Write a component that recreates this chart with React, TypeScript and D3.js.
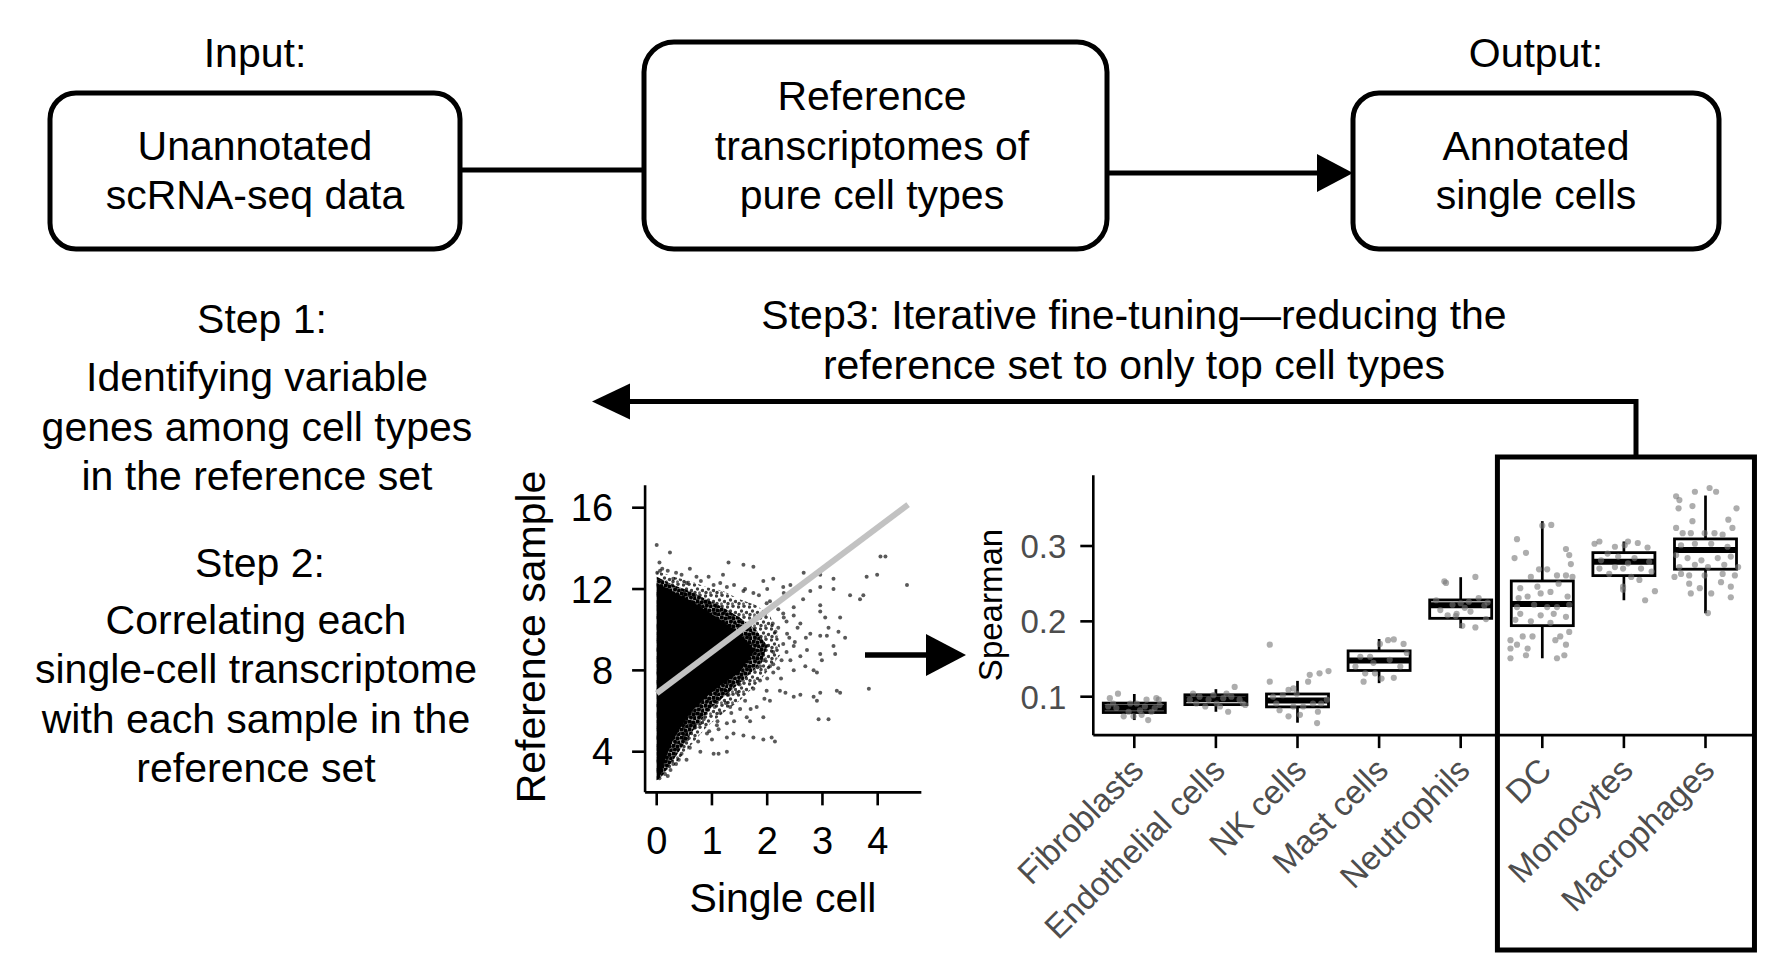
import React from "react";
import * as d3 from "d3";

const W = 1784;
const H = 968;
const FONT = '"Liberation Sans", Arial, Helvetica, sans-serif';

// ---------- Flow diagram text ----------
const inputTitle = "Input:";
const outputTitle = "Output:";
const inputLines = ["Unannotated", "scRNA-seq data"];
const refLines = ["Reference", "transcriptomes of", "pure cell types"];
const outputLines = ["Annotated", "single cells"];
const step1Lines = ["Step 1:", "Identifying variable", "genes among cell types", "in the reference set"];
const step2Lines = ["Step 2:", "Correlating each", "single-cell transcriptome", "with each sample in the", "reference set"];
const step3Lines = ["Step3: Iterative fine-tuning\u2014reducing the", "reference set to only top cell types"];

// ---------- Scatter (single cell vs reference sample) ----------
const scatterXTicks = [0, 1, 2, 3, 4];
const scatterYTicks = [4, 8, 12, 16];
const scatterXLabel = "Single cell";
const scatterYLabel = "Reference sample";
// outer edge of the speckled zone of the point cloud
const cloudOuter: [number, number][] = [
  [0, 12.9], [0.3, 12.6], [0.6, 12.4], [0.9, 12.1], [1.2, 11.9], [1.5, 11.5], [1.8, 11.2],
  [2.05, 10.7], [2.2, 9.7], [2.25, 8.8], [2.05, 8.1], [1.8, 7.3], [1.5, 6.5], [1.2, 5.9],
  [0.9, 5.2], [0.6, 4.25], [0.3, 3.3], [0.1, 2.95], [0, 2.6],
];
// edge of the very dense (almost saturated) zone
const cloudMid: [number, number][] = [
  [0, 12.6], [0.3, 12.2], [0.6, 11.9], [0.9, 11.5], [1.2, 11.1], [1.5, 10.6], [1.8, 10.0],
  [2.0, 9.2], [1.9, 8.4], [1.6, 7.6], [1.3, 6.9], [1.0, 6.2], [0.7, 5.2], [0.45, 4.2],
  [0.25, 3.4], [0.1, 2.8], [0, 2.6],
];
// edge of the saturated black core
const cloudCore: [number, number][] = [
  [0, 12.3], [0.3, 11.85], [0.6, 11.45], [0.9, 10.95], [1.2, 10.4], [1.5, 9.8], [1.78, 9.0],
  [1.5, 7.9], [1.2, 7.35], [0.9, 6.7], [0.6, 5.9], [0.3, 4.6], [0.15, 3.6], [0.05, 2.7], [0, 2.6],
];
const sparsePoints: [number, number][] = [
  [0, 14.16], [0.24, 13.8], [1.3, 13.3], [1.57, 13.2], [1.75, 13.1], [4.14, 13.6], [4.05, 13.6],
  [3.99, 12.7], [3.8, 12.6], [4.53, 12.2], [2.66, 12.8], [2.96, 12.7], [3.2, 12.5], [2.42, 12.2],
  [2.29, 12.1], [2.11, 12.5], [1.93, 12.4], [0.94, 12.6], [0.72, 12.6], [0.3, 12.5], [3.5, 11.7],
  [3.68, 11.5], [3.74, 11.7], [3.2, 12.0], [2.96, 12.1], [2.78, 11.9], [2.48, 11.1], [2.96, 11.2],
  [2.96, 10.9], [3.05, 10.6], [3.11, 10.1], [3.32, 10.6], [3.29, 9.9], [3.41, 9.6], [3.08, 9.7],
  [2.96, 9.7], [2.78, 9.8], [2.6, 10.3], [2.48, 10.7], [2.29, 10.8], [2.36, 9.8], [2.2, 10.1],
  [2.29, 9.3], [2.48, 9.2], [2.72, 9.0], [2.42, 8.5], [2.26, 8.5], [2.11, 8.3], [2.05, 8.2],
  [2.11, 7.9], [2.48, 8.0], [2.69, 8.2], [2.84, 8.0], [2.96, 8.8], [3.2, 9.2], [2.99, 8.5],
  [2.9, 7.9], [3.23, 8.8], [3.32, 6.9], [3.84, 7.1], [3.26, 7.0], [2.96, 6.9], [2.84, 6.7],
  [2.6, 6.8], [2.48, 6.7], [2.33, 6.9], [2.23, 7.0], [1.99, 7.0], [2.05, 6.5], [1.87, 7.5],
  [1.81, 6.2], [1.51, 6.1], [1.45, 6.9], [1.63, 5.7], [1.69, 5.5], [1.93, 5.7], [2.9, 6.5],
  [2.93, 5.6], [3.11, 5.6], [1.93, 4.6], [2.08, 4.7], [2.14, 4.5], [1.75, 4.7], [1.57, 4.8],
  [1.39, 4.9], [1.27, 4.7], [1.12, 5.1], [1.03, 3.9], [1.12, 3.9], [1.27, 4.0], [0.79, 4.0],
  [0.54, 3.6], [0.3, 3.4], [1.09, 5.3], [0.91, 4.9], [0.79, 5.4], [1.33, 6.2], [1.15, 5.9],
  [1.27, 5.4], [1.99, 9.2], [2.11, 8.9], [1.93, 8.5], [1.87, 8.2], [1.81, 10.6], [1.99, 11.3],
  [1.75, 11.8], [1.57, 11.9], [1.27, 12.1], [1.03, 12.2], [0.54, 12.3], [0.06, 12.9], [0.01, 12.8],
  [0.05, 13.3], [0.1, 13.0], [0.2, 12.9], [0.35, 12.8], [0.45, 12.7], [0.8, 12.4], [1.15, 12.3],
  [1.4, 12.2], [1.6, 12.0], [1.85, 11.7], [2.05, 11.4], [2.2, 11.0], [2.35, 10.4], [2.4, 9.6],
  [2.35, 8.9], [2.2, 8.1], [2.0, 7.6], [1.75, 7.1], [1.6, 6.5], [1.35, 5.9], [1.1, 5.5],
  [0.95, 5.0], [0.75, 4.5], [0.6, 4.2], [0.45, 3.9], [0.35, 3.4], [0.25, 3.1], [0.15, 2.9],
  [0.55, 4.6], [0.85, 5.6], [1.25, 6.4], [1.9, 8.8], [2.15, 9.9], [2.5, 9.4], [2.6, 8.7],
  [2.7, 9.6], [2.55, 10.1], [2.65, 11.5], [2.3, 11.8], [2.0, 12.0], [1.2, 12.7], [0.6, 13.0],
  [1.5, 7.3], [1.3, 6.8], [1.05, 6.2], [0.7, 5.2], [2.3, 10.6], [2.1, 10.3], [2.25, 7.6],
  [1.95, 6.6], [1.7, 6.1], [1.4, 5.5], [1.0, 4.6], [0.4, 3.6], [0.2, 2.8], [0.05, 2.7],
];
const fitLine: [number, number][] = [[0, 6.87], [4.55, 16.15]];

// ---------- Boxplot (Spearman per cell type) ----------
const categories = ["Fibroblasts", "Endothelial cells", "NK cells", "Mast cells", "Neutrophils", "DC", "Monocytes", "Macrophages"];
const boxLow = [0.069, 0.080, 0.0655, 0.118, 0.191, 0.151, 0.228, 0.2107];
const boxQ1 = [0.079, 0.0895, 0.0865, 0.1348, 0.204, 0.1943, 0.2607, 0.2692];
const boxMed = [0.0855, 0.0965, 0.0948, 0.148, 0.2215, 0.2231, 0.279, 0.2948];
const boxQ3 = [0.0915, 0.1025, 0.1036, 0.1608, 0.2284, 0.2536, 0.2912, 0.3094];
const boxHigh = [0.1036, 0.110, 0.121, 0.1766, 0.2586, 0.333, 0.306, 0.367];
const spearmanTicks = [0.1, 0.2, 0.3];
const spearmanLabel = "Spearman";
// [jitter offset (fraction of category step), Spearman value]
const jitterPoints: [number, number][][] = [
  [[-0.30, 0.098], [-0.20, 0.104], [-0.13, 0.074], [-0.01, 0.074], [0.09, 0.076], [0.17, 0.069], [0.15, 0.096],
   [0.27, 0.098], [0.30, 0.096], [-0.32, 0.087], [-0.07, 0.080], [0.03, 0.091], [0.25, 0.085], [-0.22, 0.085],
   [-0.05, 0.091], [0.07, 0.082], [0.13, 0.087], [-0.26, 0.091], [0.31, 0.089], [0.21, 0.080]],
  [[-0.28, 0.104], [-0.20, 0.100], [-0.13, 0.087], [0.15, 0.080], [0.23, 0.113], [0.36, 0.089], [0.33, 0.091],
   [0.09, 0.098], [-0.09, 0.096], [0.01, 0.091], [-0.32, 0.096], [0.19, 0.100], [0.29, 0.096], [-0.03, 0.102],
   [-0.24, 0.091], [0.05, 0.087], [0.13, 0.104]],
  [[-0.34, 0.169], [-0.34, 0.120], [-0.11, 0.109], [-0.05, 0.111], [0.15, 0.129], [0.13, 0.120], [0.27, 0.131],
   [0.38, 0.134], [0.36, 0.096], [0.24, 0.065], [0.25, 0.080], [-0.11, 0.074], [-0.22, 0.082], [-0.26, 0.091],
   [-0.01, 0.104], [0.07, 0.087], [0.19, 0.091], [-0.30, 0.100], [0.03, 0.076], [-0.18, 0.102], [-0.05, 0.087],
   [0.29, 0.091]],
  [[-0.23, 0.153], [0.01, 0.170], [0.11, 0.175], [0.18, 0.176], [0.30, 0.170], [-0.19, 0.120], [-0.17, 0.131],
   [-0.05, 0.131], [0.03, 0.124], [0.18, 0.125], [-0.11, 0.153], [-0.29, 0.140], [0.26, 0.140], [0.13, 0.149],
   [-0.07, 0.145], [0.34, 0.158]],
  [[-0.20, 0.253], [0.18, 0.259], [-0.16, 0.208], [-0.06, 0.207], [0.02, 0.194], [0.18, 0.192], [0.31, 0.203],
   [0.29, 0.221], [0.33, 0.225], [-0.18, 0.251], [-0.25, 0.215], [-0.10, 0.222], [0.05, 0.218], [0.12, 0.213],
   [-0.30, 0.228], [0.22, 0.231], [0.00, 0.224], [-0.05, 0.210], [0.10, 0.226]],
  [[-0.31, 0.309], [0.11, 0.328], [0.00, 0.327], [-0.34, 0.284], [-0.20, 0.291], [0.29, 0.296], [0.33, 0.288],
   [0.35, 0.276], [-0.04, 0.269], [0.06, 0.269], [-0.14, 0.259], [0.18, 0.261], [0.29, 0.261], [0.37, 0.259],
   [-0.27, 0.244], [-0.02, 0.237], [0.10, 0.239], [-0.18, 0.233], [0.31, 0.233], [-0.31, 0.219], [-0.10, 0.222],
   [0.18, 0.219], [0.33, 0.222], [-0.27, 0.210], [-0.02, 0.208], [0.14, 0.210], [0.29, 0.206], [-0.33, 0.202],
   [-0.14, 0.200], [0.10, 0.198], [0.33, 0.186], [0.22, 0.180], [-0.24, 0.180], [-0.12, 0.180], [-0.39, 0.175],
   [-0.31, 0.169], [-0.18, 0.164], [-0.39, 0.164], [0.16, 0.175], [0.29, 0.169], [0.18, 0.151], [0.27, 0.155],
   [-0.20, 0.155], [-0.39, 0.151], [-0.06, 0.246], [0.20, 0.250], [-0.29, 0.231], [0.06, 0.219]],
  [[-0.36, 0.303], [-0.30, 0.306], [-0.11, 0.299], [0.01, 0.301], [0.05, 0.306], [0.17, 0.304], [0.29, 0.298],
   [-0.20, 0.290], [-0.07, 0.286], [0.13, 0.284], [0.31, 0.279], [-0.30, 0.270], [-0.11, 0.272], [0.21, 0.270],
   [-0.01, 0.270], [0.09, 0.259], [0.19, 0.255], [-0.01, 0.246], [-0.01, 0.242], [0.38, 0.240], [0.26, 0.228],
   [-0.18, 0.263], [-0.28, 0.281], [0.34, 0.266], [0.05, 0.277]],
  [[-0.36, 0.366], [-0.32, 0.361], [-0.33, 0.350], [-0.13, 0.372], [0.05, 0.377], [0.13, 0.372], [-0.16, 0.353],
   [0.38, 0.350], [0.28, 0.335], [0.33, 0.324], [-0.16, 0.333], [-0.36, 0.324], [-0.28, 0.317], [-0.18, 0.317],
   [-0.01, 0.317], [0.11, 0.317], [0.21, 0.315], [-0.30, 0.301], [-0.13, 0.303], [0.07, 0.303], [0.27, 0.299],
   [-0.36, 0.288], [-0.22, 0.284], [-0.05, 0.281], [0.15, 0.284], [0.31, 0.286], [-0.32, 0.272], [-0.13, 0.275],
   [0.03, 0.272], [0.23, 0.275], [-0.30, 0.263], [-0.20, 0.261], [-0.01, 0.261], [0.21, 0.263], [0.36, 0.261],
   [-0.20, 0.250], [-0.07, 0.244], [0.07, 0.237], [-0.18, 0.237], [0.31, 0.246], [0.31, 0.232], [0.19, 0.252],
   [0.03, 0.211], [-0.38, 0.259], [0.40, 0.272]],
];
const highlighted = ["DC", "Monocytes", "Macrophages"];

function Lines({ lines, x, y0, dy, size = 41, anchor = "middle" }: any) {
  return (
    <g>
      {lines.map((t: string, i: number) => (
        <text key={i} x={x} y={y0 + i * dy} fontSize={size} textAnchor={anchor} fontFamily={FONT} fill="#000">
          {t}
        </text>
      ))}
    </g>
  );
}

function ArrowHead({ tipX, tipY, dir, len, half }: any) {
  const bx = tipX - dir * len;
  return <polygon points={`${tipX},${tipY} ${bx},${tipY - half} ${bx},${tipY + half}`} fill="#000" />;
}

export default function App() {
  // scatter scales
  const sx = d3.scaleLinear().domain([0, 4]).range([656.7, 877.7]);
  const sy = d3.scaleLinear().domain([4, 16]).range([751.7, 507.7]);
  const sxMin = sx(-0.21), sxMax = sx(4.79);
  const syMin = sy(2.0), syMax = sy(17.1);
  const area = d3
    .line<[number, number]>()
    .x((d) => sx(d[0]))
    .y((d) => sy(d[1]))
    .curve(d3.curveLinearClosed);

  // box scales
  const bx = d3.scalePoint<string>().domain(categories).range([1134.3, 1705.5]);
  const step = bx.step();
  const by = d3.scaleLinear().domain([0.1, 0.3]).range([696.7, 546]);
  const byBottom = by(0.049), byTop = by(0.394);
  const bxLeft = 1093.3, bxRight = 1756;
  const halfBox = step * 0.38;

  const hlFirst = bx(highlighted[0])!;
  const hlLast = bx(highlighted[highlighted.length - 1])!;
  const hlLeft = hlFirst - step * 0.55;
  const hlRight = hlLast + step * 0.6;

  return (
    <svg width={W} height={H} viewBox={`0 0 ${W} ${H}`} style={{ position: "absolute", left: 0, top: 0, background: "#fff" }}>
      <defs>
        <pattern id="speckLight" width={11} height={11} patternUnits="userSpaceOnUse">
          <circle cx={1.5} cy={2} r={1.7} fill="#000" fillOpacity={0.75} />
          <circle cx={7} cy={1.2} r={1.7} fill="#000" fillOpacity={0.75} />
          <circle cx={4.5} cy={6} r={1.7} fill="#000" fillOpacity={0.75} />
          <circle cx={9.5} cy={7.5} r={1.7} fill="#000" fillOpacity={0.75} />
          <circle cx={2} cy={9.5} r={1.7} fill="#000" fillOpacity={0.75} />
          <circle cx={6.5} cy={9.8} r={1.5} fill="#000" fillOpacity={0.6} />
        </pattern>
        <pattern id="speckDense" width={8} height={8} patternUnits="userSpaceOnUse">
          <rect width={8} height={8} fill="#000" fillOpacity={0.4} />
          <circle cx={1.5} cy={1.5} r={2} fill="#000" />
          <circle cx={5.5} cy={2.5} r={2} fill="#000" />
          <circle cx={3} cy={5.5} r={2} fill="#000" />
          <circle cx={7} cy={6.5} r={2} fill="#000" />
        </pattern>
      </defs>
      <rect x={0} y={0} width={W} height={H} fill="#fff" />

      {/* ---- top flow ---- */}
      <text x={255} y={67} fontSize={41} textAnchor="middle" fontFamily={FONT}>{inputTitle}</text>
      <text x={1536} y={67} fontSize={41} textAnchor="middle" fontFamily={FONT}>{outputTitle}</text>
      <line x1={460} y1={170} x2={644} y2={170} stroke="#000" strokeWidth={5} />
      <line x1={1107} y1={173} x2={1325} y2={173} stroke="#000" strokeWidth={5} />
      <ArrowHead tipX={1353} tipY={173} dir={1} len={36} half={19} />
      <rect x={50} y={93} width={410} height={156} rx={26} fill="#fff" stroke="#000" strokeWidth={5} />
      <rect x={644} y={42} width={463} height={207} rx={30} fill="#fff" stroke="#000" strokeWidth={5} />
      <rect x={1353} y={93} width={366} height={156} rx={26} fill="#fff" stroke="#000" strokeWidth={5} />
      <Lines lines={inputLines} x={255} y0={160} dy={49} />
      <Lines lines={refLines} x={872} y0={110} dy={49.5} />
      <Lines lines={outputLines} x={1536} y0={160} dy={49} />

      {/* ---- step texts ---- */}
      <Lines lines={step1Lines.slice(0, 1)} x={262} y0={333} dy={49} />
      <Lines lines={step1Lines.slice(1)} x={257} y0={391} dy={49.5} />
      <Lines lines={step2Lines.slice(0, 1)} x={260} y0={577} dy={49} />
      <Lines lines={step2Lines.slice(1)} x={256} y0={634} dy={49.3} />
      <Lines lines={step3Lines} x={1134} y0={329} dy={50} />

      {/* feedback arrow */}
      <line x1={1636} y1={401.5} x2={620} y2={401.5} stroke="#000" strokeWidth={5} />
      <line x1={1636} y1={399} x2={1636} y2={457} stroke="#000" strokeWidth={5} />
      <ArrowHead tipX={592} tipY={401.5} dir={-1} len={38} half={18} />

      {/* ---- scatter ---- */}
      <path d={area(cloudOuter)!} fill="url(#speckLight)" />
      <path d={area(cloudMid)!} fill="url(#speckDense)" />
      <path d={area(cloudCore)!} fill="#000" />
      {sparsePoints.map((p, i) => (
        <circle key={i} cx={sx(p[0])} cy={sy(p[1])} r={2} fill="#000" fillOpacity={0.65} />
      ))}
      <line x1={sx(fitLine[0][0])} y1={sy(fitLine[0][1])} x2={sx(fitLine[1][0])} y2={sy(fitLine[1][1])}
        stroke="#c2c2c2" strokeWidth={6} />
      <line x1={sxMin} y1={syMax} x2={sxMin} y2={syMin} stroke="#000" strokeWidth={2.6} />
      <line x1={sxMin} y1={syMin} x2={sxMax} y2={syMin} stroke="#000" strokeWidth={2.6} />
      {scatterYTicks.map((t) => (
        <g key={t}>
          <line x1={sxMin - 13} x2={sxMin} y1={sy(t)} y2={sy(t)} stroke="#000" strokeWidth={2.6} />
          <text x={sxMin - 32} y={sy(t) + 13.5} fontSize={38} textAnchor="end" fontFamily={FONT}>{t}</text>
        </g>
      ))}
      {scatterXTicks.map((t) => (
        <g key={t}>
          <line x1={sx(t)} x2={sx(t)} y1={syMin} y2={syMin + 13} stroke="#000" strokeWidth={2.6} />
          <text x={sx(t)} y={854} fontSize={38} textAnchor="middle" fontFamily={FONT}>{t}</text>
        </g>
      ))}
      <text x={783} y={912} fontSize={41} textAnchor="middle" fontFamily={FONT}>{scatterXLabel}</text>
      <text transform="translate(545,637) rotate(-90)" fontSize={41} textAnchor="middle" fontFamily={FONT}>{scatterYLabel}</text>

      {/* arrow scatter -> boxplot */}
      <line x1={865} y1={655} x2={935} y2={655} stroke="#000" strokeWidth={5.5} />
      <ArrowHead tipX={966} tipY={655} dir={1} len={40} half={21} />

      {/* ---- boxplot ---- */}
      {categories.map((c, i) => {
        const x = bx(c)!;
        return (
          <g key={c}>
            <line x1={x} x2={x} y1={by(boxHigh[i])} y2={by(boxLow[i])} stroke="#000" strokeWidth={2.7} />
            <rect x={x - halfBox} width={halfBox * 2} y={by(boxQ3[i])} height={by(boxQ1[i]) - by(boxQ3[i])}
              fill="#fff" stroke="#000" strokeWidth={2.8} />
            <line x1={x - halfBox} x2={x + halfBox} y1={by(boxMed[i])} y2={by(boxMed[i])} stroke="#000" strokeWidth={6} />
          </g>
        );
      })}
      {categories.map((c, i) =>
        jitterPoints[i].map((p, j) => (
          <circle key={c + j} cx={bx(c)! + p[0] * step} cy={by(p[1])} r={3.1} fill="#777" fillOpacity={0.6} />
        ))
      )}
      <line x1={bxLeft} x2={bxLeft} y1={byTop} y2={byBottom} stroke="#000" strokeWidth={2.6} />
      <line x1={bxLeft} x2={bxRight} y1={byBottom} y2={byBottom} stroke="#000" strokeWidth={2.6} />
      {spearmanTicks.map((t) => (
        <g key={t}>
          <line x1={bxLeft - 13} x2={bxLeft} y1={by(t)} y2={by(t)} stroke="#000" strokeWidth={2.6} />
          <text x={bxLeft - 27} y={by(t) + 12} fontSize={33} textAnchor="end" fill="#4d4d4d" fontFamily={FONT}>
            {d3.format(".1f")(t)}
          </text>
        </g>
      ))}
      <text transform="translate(1002,605) rotate(-90)" fontSize={33} textAnchor="middle" fontFamily={FONT}>{spearmanLabel}</text>
      {categories.map((c) => {
        const x = bx(c)!;
        return (
          <g key={"t" + c}>
            <line x1={x} x2={x} y1={byBottom} y2={byBottom + 13} stroke="#000" strokeWidth={2.6} />
            <text transform={`translate(${x + 11},${byBottom + 37}) rotate(-45)`} fontSize={33} textAnchor="end"
              fill="#4d4d4d" fontFamily={FONT}>{c}</text>
          </g>
        );
      })}

      {/* highlight box */}
      <rect x={hlLeft} y={457} width={hlRight - hlLeft} height={950 - 457} fill="none" stroke="#000" strokeWidth={5} />
    </svg>
  );
}
